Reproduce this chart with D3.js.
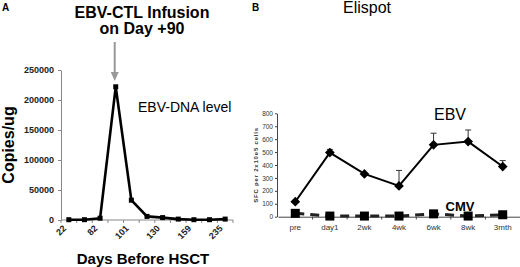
<!DOCTYPE html>
<html>
<head>
<meta charset="utf-8">
<script src="https://cdn.jsdelivr.net/npm/d3@7"></script>
<style>
  body { margin: 0; background: #fff; }
  svg { display: block; font-family: "Liberation Sans", Arial, sans-serif; }
</style>
</head>
<body>
<div id="chart"></div>
<script>
// panel A: EBV-DNA copies
const daysA = ["22", "52", "82", "90", "101", "115", "130", "145", "159", "200", "235"]
const daysLabelA = ["22", "82", "101", "130", "159", "235"]
const copiesA = [500, 500, 3000, 222000, 33000, 6000, 4000, 1500, 500, 500, 1500]
const ticksA = [0, 50000, 100000, 150000, 200000, 250000]

// panel B: Elispot
const visitsB = ["pre", "day1", "2wk", "4wk", "6wk", "8wk", "3mth"]
const ebvB = [116, 496, 331, 238, 556, 581, 388]
const ebvErrB = [0, 25, 0, 120, 90, 90, 46]
const cmvB = [26, 5, 5, 5, 22, 5, 15]
const ticksB = [0, 100, 200, 300, 400, 500, 600, 700, 800]

drawPanels()

function drawPanels(){
    const svg = d3.select('#chart')
    .append("svg")
    .attr("width", 520)
    .attr("height", 267)

    // ---------- panel A ----------
    const gA = svg.append("g")

    var xA = d3.scaleBand()
    .domain(daysA)
    .range([61, 233])

    var yA = d3.scaleLinear()
    .domain([0, 250000])
    .range([220, 70])

    // y axis
    gA.append("g")
    .attr("transform", "translate(61,0)")
    .call(d3.axisLeft(yA).tickValues(ticksA).tickSize(3).tickSizeOuter(0).tickPadding(4).tickFormat(d3.format("d")))
    .call(g => g.select(".domain").attr("stroke", "#888"))
    .call(g => g.selectAll(".tick line").attr("stroke", "#888"))
    .selectAll("text")
    .style("font-size", "9px")
    .style("font-weight", "bold")
    .attr("fill", "#222")

    // x axis
    const xAxisA = gA.append("g")
    .attr("transform", "translate(0,220)")
    xAxisA.append("line")
    .attr("x1", 61).attr("x2", 233)
    .attr("stroke", "#888")
    xAxisA.selectAll("line.tk")
    .data(daysA.concat(["end"]))
    .enter()
    .append("line")
    .attr("class", "tk")
    .attr("x1", function(d, i) { return i < daysA.length ? xA(d) : 233 })
    .attr("x2", function(d, i) { return i < daysA.length ? xA(d) : 233 })
    .attr("y1", 0).attr("y2", 3)
    .attr("stroke", "#888")
    xAxisA.selectAll("text")
    .data(daysLabelA)
    .enter()
    .append("text")
    .attr("transform", function(d, i) {
        const cx = xA(daysA[i * 2]) + xA.bandwidth() / 2
        return "translate(" + (cx - 2) + ",9)rotate(-45)"
    })
    .style("text-anchor", "end")
    .style("font-size", "9px")
    .style("font-weight", "bold")
    .attr("fill", "#222")
    .text(function(d) { return d })

    const lineA = d3.line()
    .x(function(d, i) { return xA(daysA[i]) + xA.bandwidth() / 2 })
    .y(function(d) { return yA(d) })

    gA.append("path")
    .datum(copiesA)
    .attr("d", lineA)
    .attr("fill", "none")
    .attr("stroke", "#000")
    .attr("stroke-width", 2.6)
    .attr("stroke-linejoin", "miter")

    gA.selectAll("rect.pt")
    .data(copiesA)
    .enter()
    .append("rect")
    .attr("class", "pt")
    .attr("x", function(d, i) { return xA(daysA[i]) + xA.bandwidth() / 2 - 2.5 })
    .attr("y", function(d) { return yA(d) - 2.5 })
    .attr("width", 5)
    .attr("height", 5)
    .attr("fill", "#000")

    // arrow
    const ax = xA(daysA[3]) + xA.bandwidth() / 2 - 1
    gA.append("line")
    .attr("x1", ax).attr("x2", ax)
    .attr("y1", 42).attr("y2", 74)
    .attr("stroke", "#999")
    .attr("stroke-width", 2)
    gA.append("path")
    .attr("d", "M" + (ax - 4) + ",72 L" + (ax + 4) + ",72 L" + ax + ",81 Z")
    .attr("fill", "#999")

    gA.append("text")
    .attr("x", 142).attr("y", 18)
    .style("text-anchor", "middle")
    .style("font-size", "16px")
    .style("font-weight", "bold")
    .text("EBV-CTL Infusion")
    gA.append("text")
    .attr("x", 142).attr("y", 34)
    .style("text-anchor", "middle")
    .style("font-size", "16px")
    .style("font-weight", "bold")
    .text("on Day +90")

    gA.append("text")
    .attr("x", 138).attr("y", 112)
    .style("font-size", "14px")
    .text("EBV-DNA level")

    gA.append("text")
    .attr("transform", "translate(14,145)rotate(-90)")
    .style("text-anchor", "middle")
    .style("font-size", "16px")
    .style("font-weight", "bold")
    .text("Copies/ug")

    gA.append("text")
    .attr("x", 143).attr("y", 264)
    .style("text-anchor", "middle")
    .style("font-size", "15px")
    .style("font-weight", "bold")
    .text("Days Before HSCT")

    gA.append("text")
    .attr("x", 2).attr("y", 11)
    .style("font-size", "10px")
    .style("font-weight", "bold")
    .text("A")

    // ---------- panel B ----------
    const gB = svg.append("g")

    var xB = d3.scaleBand()
    .domain(visitsB)
    .range([278, 520])

    var yB = d3.scaleLinear()
    .domain([0, 800])
    .range([216.7, 113.3])

    gB.append("g")
    .attr("transform", "translate(277,0)")
    .call(d3.axisLeft(yB).tickValues(ticksB).tickSize(2).tickSizeOuter(0).tickPadding(2))
    .call(g => g.select(".domain").attr("stroke", "#444"))
    .call(g => g.selectAll(".tick line").attr("stroke", "#444"))
    .selectAll("text")
    .style("font-size", "6.5px")
    .attr("fill", "#333")

    gB.append("g")
    .attr("transform", "translate(0,216.7)")
    .call(d3.axisBottom(xB).tickSize(0).tickSizeOuter(0).tickPadding(8))
    .call(g => g.select(".domain").attr("stroke", "#444"))
    .selectAll("text")
    .style("font-size", "8px")
    .attr("fill", "#333")

    gB.selectAll("line.tkb")
    .data(visitsB.slice(1))
    .enter()
    .append("line")
    .attr("class", "tkb")
    .attr("x1", function(d) { return xB(d) })
    .attr("x2", function(d) { return xB(d) })
    .attr("y1", 216.7).attr("y2", 219.5)
    .attr("stroke", "#444")

    const cx = function(i) { return xB(visitsB[i]) + xB.bandwidth() / 2 }

    // CMV dashed line
    gB.append("path")
    .datum(cmvB)
    .attr("d", d3.line().x(function(d, i) { return cx(i) }).y(function(d) { return yB(d) }))
    .attr("fill", "none")
    .attr("stroke", "#222")
    .attr("stroke-width", 3)
    .attr("stroke-dasharray", "9,6")

    gB.selectAll("rect.cmv")
    .data(cmvB)
    .enter()
    .append("rect")
    .attr("class", "cmv")
    .attr("x", function(d, i) { return cx(i) - 4.5 })
    .attr("y", function(d) { return yB(d) - 4.5 })
    .attr("width", 9)
    .attr("height", 9)
    .attr("fill", "#000")

    // EBV error bars
    gB.selectAll("g.err")
    .data(ebvB)
    .enter()
    .append("g")
    .attr("class", "err")
    .each(function(d, i) {
        if (!ebvErrB[i]) return
        const g = d3.select(this)
        const top = yB(d + ebvErrB[i])
        g.append("line")
        .attr("x1", cx(i)).attr("x2", cx(i))
        .attr("y1", yB(d)).attr("y2", top)
        .attr("stroke", "#333").attr("stroke-width", 1)
        g.append("line")
        .attr("x1", cx(i) - 3).attr("x2", cx(i) + 3)
        .attr("y1", top).attr("y2", top)
        .attr("stroke", "#333").attr("stroke-width", 1)
    })

    gB.append("path")
    .datum(ebvB)
    .attr("d", d3.line().x(function(d, i) { return cx(i) }).y(function(d) { return yB(d) }))
    .attr("fill", "none")
    .attr("stroke", "#000")
    .attr("stroke-width", 2)

    gB.selectAll("path.dia")
    .data(ebvB)
    .enter()
    .append("path")
    .attr("class", "dia")
    .attr("d", d3.symbol().type(d3.symbolDiamond2).size(60))
    .attr("transform", function(d, i) { return "translate(" + cx(i) + "," + yB(d) + ")" })
    .attr("fill", "#000")

    gB.append("text")
    .attr("x", 450).attr("y", 120)
    .style("text-anchor", "middle")
    .style("font-size", "16px")
    .text("EBV")

    gB.append("text")
    .attr("x", 460).attr("y", 211)
    .style("text-anchor", "middle")
    .style("font-size", "13px")
    .style("font-weight", "bold")
    .text("CMV")

    gB.append("text")
    .attr("transform", "translate(258,165)rotate(-90)")
    .style("text-anchor", "middle")
    .style("font-size", "6px")
    .style("letter-spacing", "0.8px")
    .style("font-weight", "bold")
    .attr("fill", "#333")
    .text("SFC per 2x10e5 cells")

    gB.append("text")
    .attr("x", 367).attr("y", 13)
    .style("text-anchor", "middle")
    .style("font-size", "16px")
    .text("Elispot")

    gB.append("text")
    .attr("x", 252).attr("y", 11)
    .style("font-size", "10px")
    .style("font-weight", "bold")
    .text("B")
}
</script>
</body>
</html>
